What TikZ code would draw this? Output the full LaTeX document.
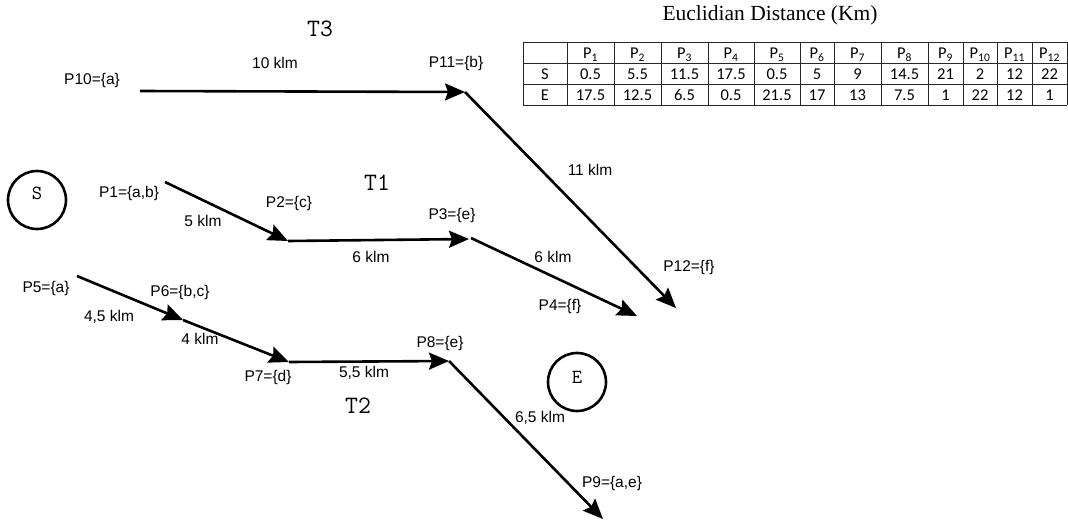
\documentclass[tikz,border=0pt]{standalone}
\usepackage{fontspec}
\setmainfont{Liberation Sans}
\newfontfamily\tabfont{Carlito}
\newfontfamily\serifttl{Liberation Serif}
\usetikzlibrary{arrows.meta}
\begin{document}
\begin{tikzpicture}[x=1pt,y=-1pt,
  conn/.style={line width=2.6pt,-{Stealth[length=20pt,width=17pt,inset=3pt]}},
  lbl/.style={font=\fontsize{15.5}{17}\selectfont,inner sep=0pt},
  tname/.style={font=\ttfamily\fontsize{25}{27}\selectfont,inner sep=0pt},
  cname/.style={font=\ttfamily\fontsize{20}{22}\selectfont,inner sep=0pt},
  endpt/.style={circle,draw,line width=2.6pt,minimum size=58pt,inner sep=0pt},
  cell/.style={font=\tabfont\fontsize{16.5}{18}\selectfont,inner sep=0pt,anchor=base},
  grid/.style={line width=0.8pt,draw=black!85}]
\useasboundingbox (0,0) rectangle (1068,520);

% start/end circles
\node[endpt] (S) at (37,200) {};
\node[cname] (Slbl) at (37,193) {S};
\node[endpt] (E) at (577,382) {};
\node[cname] (Elbl) at (577,377) {E};

% points
\coordinate (p10) at (140,91);
\coordinate (p11) at (465,92);
\coordinate (p12) at (676,308);
\coordinate (p1) at (165,182);
\coordinate (p2) at (288,241);
\coordinate (p3) at (469,239);
\coordinate (p3s) at (471,238);
\coordinate (p4) at (637,316);
\coordinate (p5) at (77,276);
\coordinate (p6) at (183,320);
\coordinate (p7) at (289,362);
\coordinate (p8) at (449,361);
\coordinate (p9) at (603,519);

% connectors
\draw[conn] (p10) -- (p11);
\draw[conn] (p11) -- (p12);
\draw[conn] (p1) -- (p2);
\draw[conn] (p2) -- (p3);
\draw[conn] (p3s) -- (p4);
\draw[conn] (p5) -- (p6);
\draw[conn] (p6) -- (p7);
\draw[conn] (p7) -- (p8);
\draw[conn] (p8) -- (p9);

% trip names
\node[tname] (T3) at (320,29) {T3};
\node[tname] (T1) at (377,183) {T1};
\node[tname] (T2) at (358,406) {T2};

% point labels
\node[lbl] (l10) at (92,80) {P10=\{a\}};
\node[lbl] (l11) at (456,63) {P11=\{b\}};
\node[lbl] (l1) at (129,193) {P1=\{a,b\}};
\node[lbl] (l2) at (289,203) {P2=\{c\}};
\node[lbl] (l3) at (452,215) {P3=\{e\}};
\node[lbl] (l12) at (689,267) {P12=\{f\}};
\node[lbl] (l4) at (560,306) {P4=\{f\}};
\node[lbl] (l5) at (46,288) {P5=\{a\}};
\node[lbl] (l6) at (180,292) {P6=\{b,c\}};
\node[lbl] (l8) at (440,343) {P8=\{e\}};
\node[lbl] (l7) at (268,377) {P7=\{d\}};
\node[lbl] (l9) at (612,483) {P9=\{a,e\}};

% distance labels
\node[lbl] (d10) at (275,63) {10 klm};
\node[lbl] (d11) at (590,170) {11 klm};
\node[lbl] (d1) at (203,221) {5 klm};
\node[lbl] (d2) at (371,257) {6 klm};
\node[lbl] (d3) at (553,257) {6 klm};
\node[lbl] (d5) at (109,317) {4,5 klm};
\node[lbl] (d6) at (200,339) {4 klm};
\node[lbl] (d7) at (364,373) {5,5 klm};
\node[lbl] (d8) at (540,418) {6,5 klm};

% table
\node[font=\serifttl\fontsize{21.5}{23}\selectfont,inner sep=0pt] (title) at (770,15) {Euclidian Distance (Km)};
\def\xs{{523,567,614,661,708,754,800,834,881,928,963,997,1032,1067}}
\foreach \yy in {42,63,84,105} \draw[grid] (523,\yy) -- (1067,\yy);
\foreach \xx in {523,567,614,661,708,754,800,834,881,928,963,997,1032,1067} \draw[grid] (\xx,42) -- (\xx,105);
\foreach \i/\a/\b in {1/0.5/17.5,2/5.5/12.5,3/11.5/6.5,4/17.5/0.5,5/0.5/21.5,6/5/17,7/9/13,8/14.5/7.5,9/21/1,10/2/22,11/12/12,12/22/1}{
  \pgfmathsetmacro{\xa}{\xs[\i]}
  \pgfmathsetmacro{\xb}{\xs[\i+1]}
  \pgfmathsetmacro{\xc}{(\xa+\xb)/2}
  \node[cell] (h\i) at (\xc,58.5) {P\textsubscript{\i}};
  \node[cell] (s\i) at (\xc,79.5) {\a};
  \node[cell] (e\i) at (\xc,100.5) {\b};
}
\node[cell] (srow) at (545,79.5) {S};
\node[cell] (erow) at (545,100.5) {E};
\end{tikzpicture}
\end{document}
